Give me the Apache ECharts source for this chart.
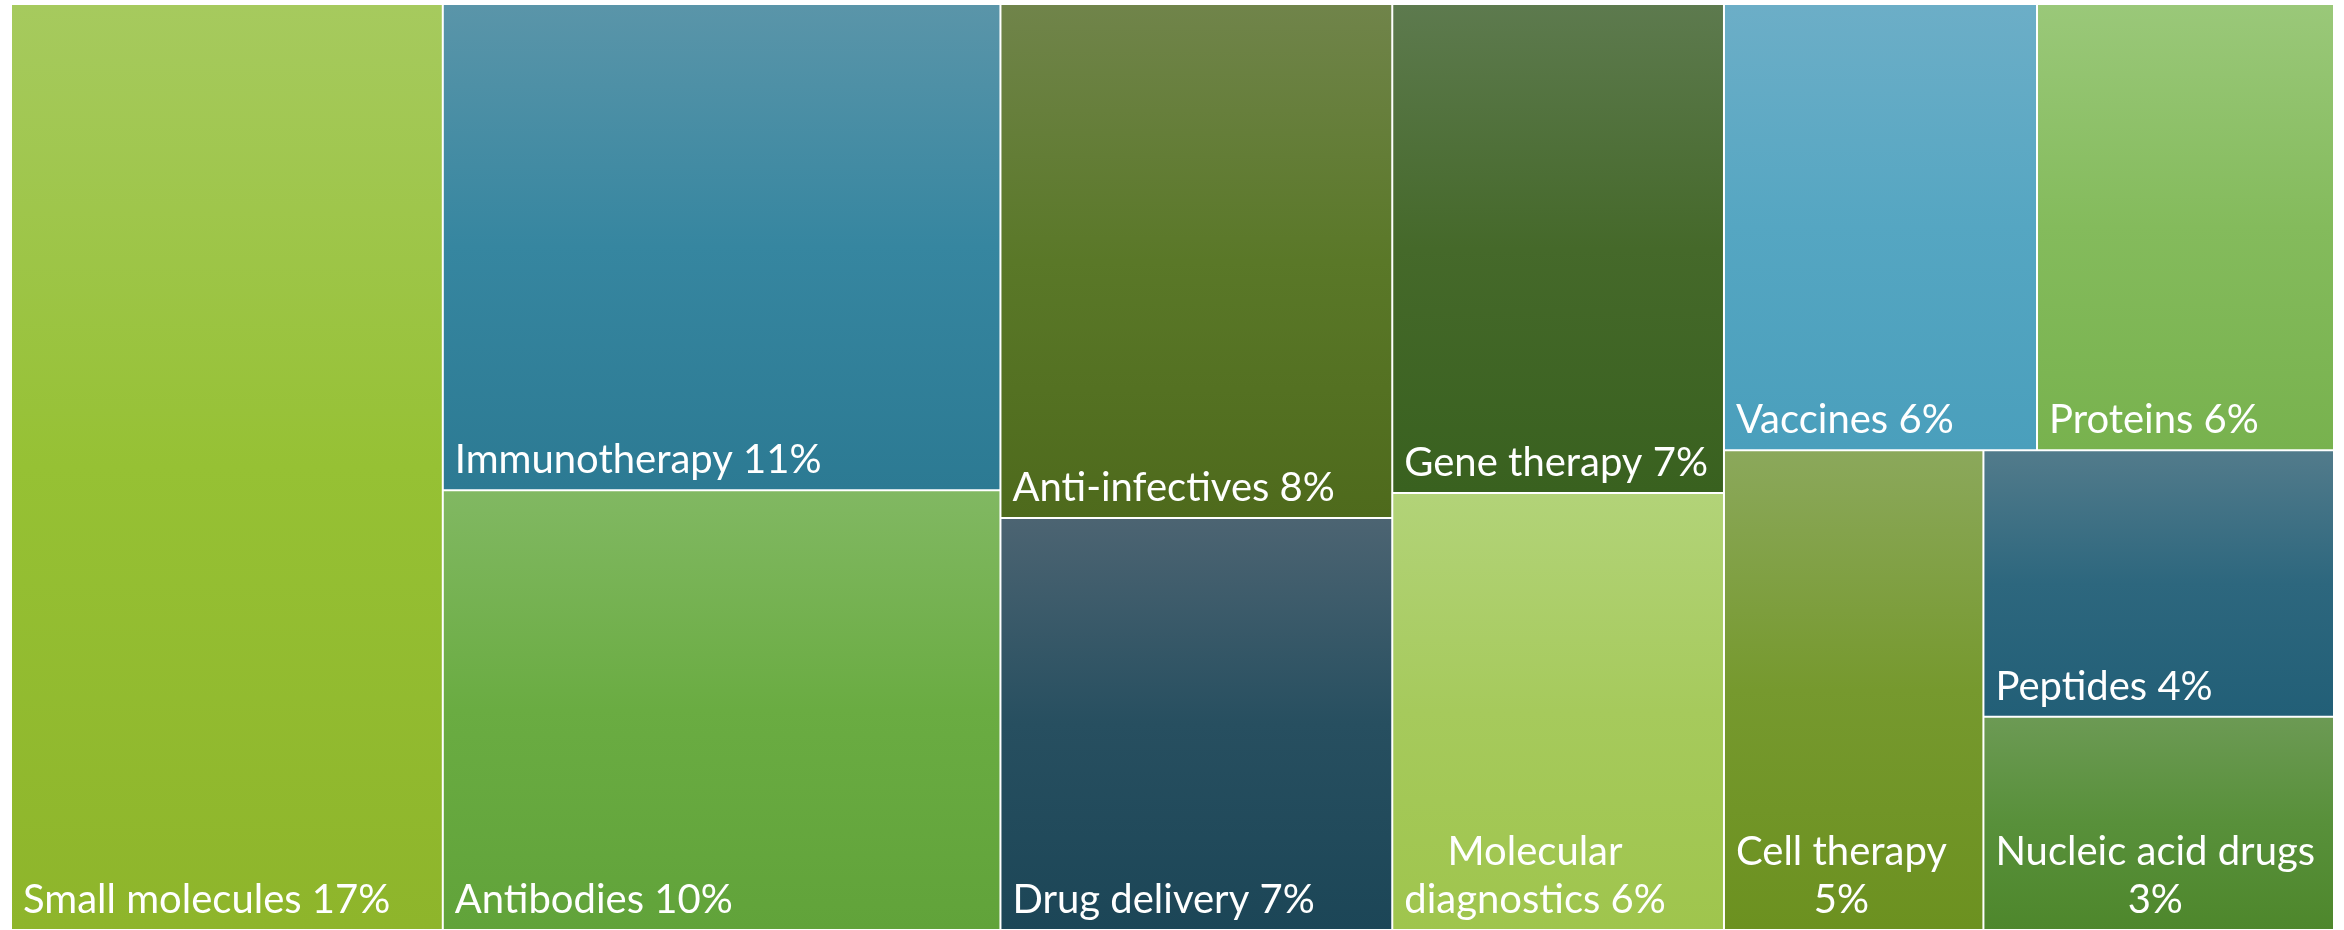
<!DOCTYPE html>
<html>
<head>
<meta charset="utf-8">
<title>Treemap</title>
<script src="https://cdn.jsdelivr.net/npm/echarts@6/dist/echarts.min.js"></script>
<style>
  html, body { margin: 0; padding: 0; background: #fff; }
  #main { width: 2344px; height: 930px; }
</style>
</head>
<body>
<div id="main"></div>
<script>
  // categories and their shares (percent labels are rounded shares)
  const categories = ['Small molecules', 'Immunotherapy', 'Antibodies', 'Anti-infectives', 'Drug delivery',
    'Gene therapy', 'Molecular diagnostics', 'Vaccines', 'Proteins', 'Cell therapy', 'Peptides', 'Nucleic acid drugs'];
  const shares = [16.74, 11.35, 10.27, 8.43, 6.76, 6.79, 6.07, 5.85, 5.55, 5.21, 3.91, 3.13];
  // how the cells are grouped into blocks (indexes into categories)
  const blocks = [[0], [1, 2], [3, 4], [5, 6], [[7, 8], 9, 10, 11]];
  // words on the first label line when the label wraps (0 = one line)
  const firstLineWords = [0, 0, 0, 0, 0, 0, 1, 0, 0, 2, 0, 3];

  // gradient colours, top -> bottom
  const colors = [
    ['#a6ca5e', '#96c134', '#8eb52b'],
    ['#5a95a9', '#3686a0', '#2c7a93'],
    ['#81b862', '#6aac42', '#61a33a'],
    ['#70844a', '#5a7828', '#4e6a1c'],
    ['#4c6472', '#274f60', '#1c4657'],
    ['#5d7a4e', '#45692a', '#39611f'],
    ['#b2d378', '#a6ca5c', '#9fc54d'],
    ['#6caec7', '#55a6c2', '#4a9fbc'],
    ['#9ac879', '#84bb5c', '#78b24e'],
    ['#8ba85b', '#76992e', '#6c9120'],
    ['#527b8b', '#2d677e', '#225f77'],
    ['#6c9a54', '#58903a', '#4e872c']
  ];

  const fontFamily = 'Lato';
  const fontSize = 40;
  const pad = [0, 2, 5, 11];

  const measureCtx = document.createElement('canvas').getContext('2d');
  measureCtx.font = fontSize + 'px ' + fontFamily;

  function labelLines(i) {
    const words = (categories[i] + ' ' + Math.round(shares[i]) + '%').split(' ');
    const n = firstLineWords[i];
    if (!n) return [words.join(' ')];
    return [words.slice(0, n).join(' '), words.slice(n).join(' ')];
  }

  function leaf(i) {
    const lines = labelLines(i);
    const item = {
      name: categories[i],
      value: shares[i],
      itemStyle: {
        borderWidth: 1,
        borderColor: '#fff',
        color: {
          type: 'linear', x: 0, y: 0, x2: 0, y2: 1,
          colorStops: [
            {offset: 0, color: colors[i][0]},
            {offset: 0.5, color: colors[i][1]},
            {offset: 1, color: colors[i][2]}
          ]
        }
      }
    };
    if (lines.length > 1) {
      // lines centred on each other, block kept at the left
      const w = Math.max.apply(null, lines.map(l => measureCtx.measureText(l).width));
      item.label = {align: 'center', offset: [pad[3] / 2 + pad[1] / 2 + w / 2, 0]};
    }
    return item;
  }

  function build(block) {
    if (typeof block === 'number') return leaf(block);
    if (block.length === 1) return build(block[0]);
    return {
      name: 'group',
      itemStyle: {borderWidth: 0, gapWidth: 0},
      children: block.map(build)
    };
  }

  const treeData = blocks.map(build);

  const myChart = echarts.init(document.getElementById('main'));
  myChart.setOption({
    animation: false,
    series: [{
      type: 'treemap',
      left: 11,
      top: 4,
      right: 10,
      bottom: 0,
      sort: false,
      squareRatio: 0.001,
      roam: false,
      nodeClick: false,
      breadcrumb: {show: false},
      visibleMin: 0,
      itemStyle: {borderWidth: 0, gapWidth: 0, borderColor: '#fff'},
      label: {
        show: true,
        position: 'insideBottomLeft',
        distance: 0,
        padding: pad,
        color: '#fff',
        fontFamily: fontFamily,
        fontSize: fontSize,
        lineHeight: 48,
        formatter: function (p) {
          return labelLines(categories.indexOf(p.name)).join('\n');
        }
      },
      upperLabel: {show: false},
      data: treeData
    }]
  });
</script>
</body>
</html>
